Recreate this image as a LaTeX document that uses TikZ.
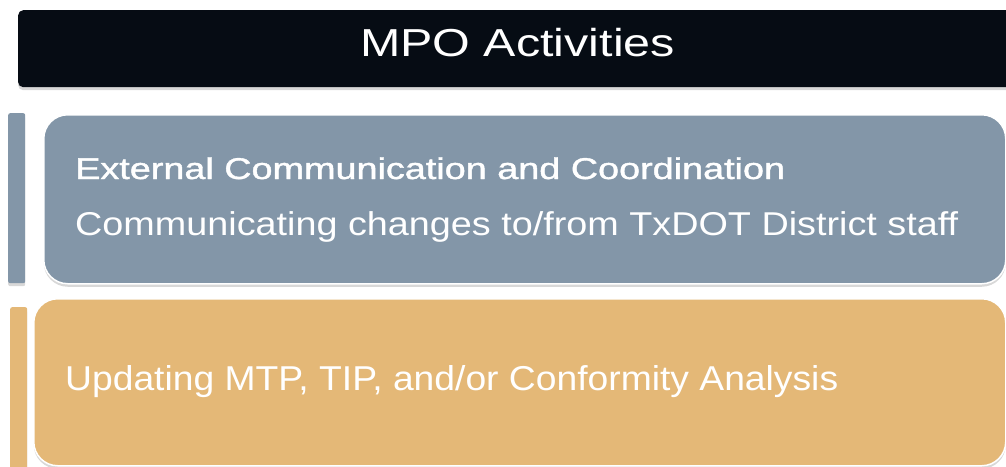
\documentclass[tikz,border=0pt]{standalone}
\usepackage{fontspec}
\setmainfont{Liberation Sans}
\newfontfamily\medfont[FakeBold=1.2]{Liberation Sans}
\usetikzlibrary{shadows}
\definecolor{barblack}{HTML}{060C14}
\definecolor{slate}{HTML}{8396A8}
\definecolor{gold}{HTML}{E4B877}
\newlength\fitlen
\newcommand\fitto[2]{\settowidth\fitlen{#2}\pgfmathsetmacro\fitsx{#1/\fitlen}\scalebox{\fitsx}[1]{#2}}
\tikzset{
  shade/.style={drop shadow={shadow xshift=0pt,shadow yshift=-3pt,opacity=0.25,fill=black!60}},
  panel/.style={rectangle,rounded corners=24pt,draw=white,line width=1.5pt,anchor=north west,inner sep=0pt,shade},
  sidebar/.style={rectangle,rounded corners=2pt,anchor=north west,inner sep=0pt,minimum width=17pt,shade},
  label/.style={anchor=base west,inner sep=0pt,text=white},
}
\begin{document}
\begin{tikzpicture}[x=1pt,y=-1pt]
\useasboundingbox[fill=white] (0,0) rectangle (1006,466);
% title bar
\node[rectangle,rounded corners=5pt,fill=barblack,anchor=north west,inner sep=0pt,
      minimum width=1000pt,minimum height=77pt,shade] (title) at (18,10) {};
\node[anchor=base,inner sep=0pt,text=white,font=\fontsize{39}{41}\selectfont] (titletext) at (517.5,56) {\fitto{315pt}{MPO Activities}};
% gray section
\node[sidebar,fill=slate,minimum height=170pt] (graybar) at (8,113) {};
\node[panel,fill=slate,minimum width=962pt,minimum height=169pt] (graybox) at (43,114) {};
\node[label,font=\medfont\fontsize{30}{32}\selectfont] (l1) at (75,179) {\fitto{710pt}{External Communication and Coordination}};
\node[label,font=\fontsize{33}{35}\selectfont] (l2) at (75,235) {\fitto{883pt}{Communicating changes to/from TxDOT District staff}};
% gold section
\node[sidebar,fill=gold,minimum height=170pt] (goldbar) at (10,307) {};
\node[panel,fill=gold,minimum width=972pt,minimum height=167pt] (goldbox) at (33,298) {};
\node[label,font=\fontsize{34.5}{36}\selectfont] (l3) at (65,390) {\fitto{773pt}{Updating MTP, TIP, and/or Conformity Analysis}};
\end{tikzpicture}
\end{document}
